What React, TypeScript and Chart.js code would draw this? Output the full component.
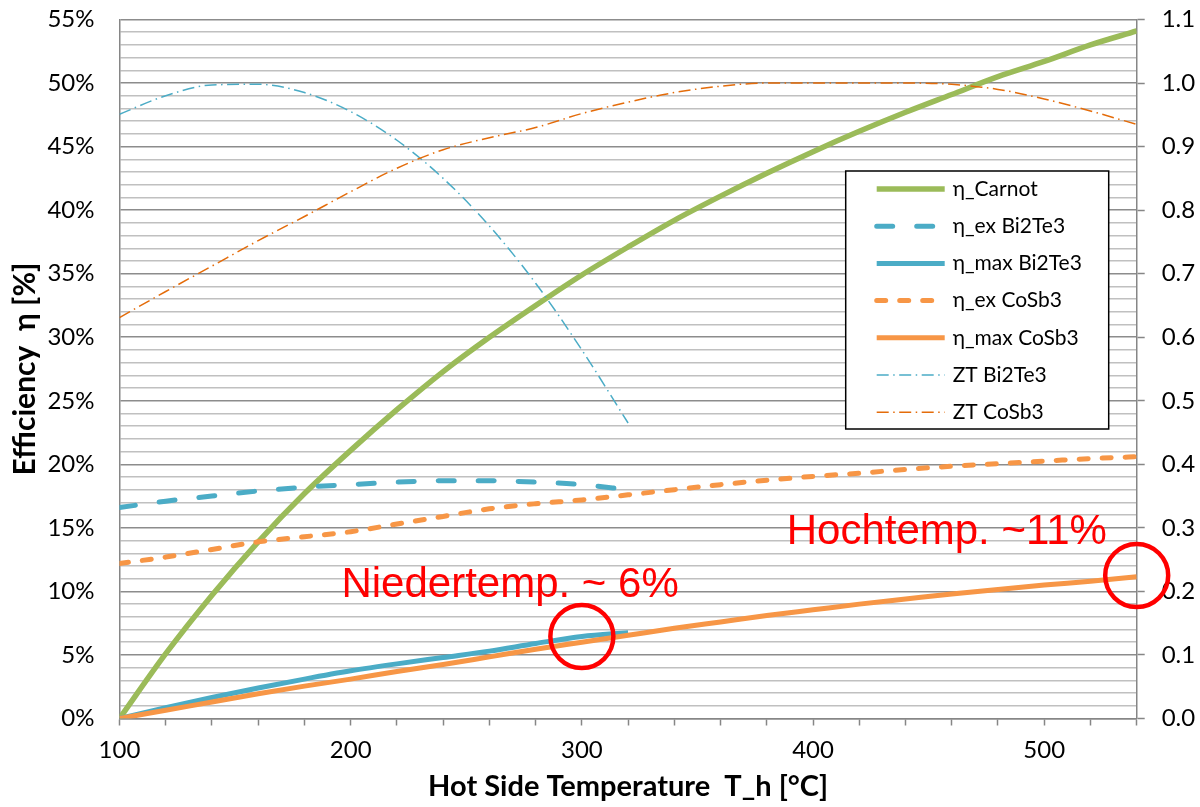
import { useEffect, useRef } from 'react';
import { Chart, registerables } from 'chart.js';

Chart.register(...registerables);

// Hot side temperatures [°C]
const temps = [100, 120, 140, 160, 180, 200, 220, 240, 260, 280, 300, 320, 340, 360, 380, 400, 420, 440, 460, 480, 500, 520, 540];
const tempsBi2Te3 = [100, 120, 140, 160, 180, 200, 220, 240, 260, 280, 300, 320];

// Efficiencies [%]
const etaCarnot = [0, 5.1, 9.7, 13.9, 17.7, 21.1, 24.3, 27.3, 30.0, 32.5, 34.9, 37.1, 39.2, 41.1, 42.9, 44.6, 46.2, 47.7, 49.1, 50.5, 51.7, 53.0, 54.1];
const etaExBi2Te3 = [16.6, 17.1, 17.5, 17.9, 18.2, 18.4, 18.6, 18.7, 18.7, 18.6, 18.4, 18.0];
const etaMaxBi2Te3 = [0, 0.85, 1.65, 2.4, 3.1, 3.75, 4.3, 4.8, 5.3, 5.9, 6.45, 6.75];
const etaExCoSb3 = [12.2, 12.7, 13.3, 13.9, 14.3, 14.7, 15.3, 15.9, 16.5, 16.9, 17.2, 17.6, 18.0, 18.4, 18.75, 19.05, 19.3, 19.6, 19.85, 20.05, 20.25, 20.45, 20.6];
const etaMaxCoSb3 = [0, 0.65, 1.3, 1.95, 2.55, 3.1, 3.7, 4.25, 4.85, 5.45, 6.0, 6.55, 7.1, 7.6, 8.1, 8.55, 9.0, 9.4, 9.8, 10.15, 10.5, 10.8, 11.15];

// Figure of merit ZT (right axis)
const ztBi2Te3 = [0.951, 0.98, 0.997, 0.998, 0.985, 0.955, 0.91, 0.85, 0.775, 0.685, 0.58, 0.465];
const ztCoSb3 = [0.631, 0.672, 0.712, 0.752, 0.79, 0.829, 0.866, 0.895, 0.914, 0.93, 0.952, 0.97, 0.985, 0.995, 1.0, 1.0, 1.0, 1.0, 0.998, 0.99, 0.975, 0.956, 0.935];

// Axis ticks
const xTicks = [100, 120, 140, 160, 180, 200, 220, 240, 260, 280, 300, 320, 340, 360, 380, 400, 420, 440, 460, 480, 500, 520, 540];
const xLabelTicks = [100, 200, 300, 400, 500];
const yMinorTicks = Array.from({ length: 56 }, (_, i) => i);
const yLabelTicks = [0, 5, 10, 15, 20, 25, 30, 35, 40, 45, 50, 55];
const ztTicks = [0, 0.1, 0.2, 0.3, 0.4, 0.5, 0.6, 0.7, 0.8, 0.9, 1.0, 1.1];

// Annotations
const notes = [
  { text: 'Niedertemp. ~ 6%', x: 196, y: 9.55, cx: 300, cy: 6.45 },
  { text: 'Hochtemp. ~11%', x: 388.6, y: 13.75, cx: 540, cy: 11.25 },
];

const GREEN = '#9BBB59';
const BLUE = '#4BACC6';
const ORANGE = '#F79646';
const DARK_ORANGE = '#E46C0A';
const AXIS_GRAY = '#868686';

const pts = (xs: number[], ys: number[]) => ys.map((y, i) => ({ x: xs[i], y }));

const legendPlugin = {
  id: 'boxLegend',
  afterDraw(chart: any) {
    const { ctx, chartArea } = chart;
    const left = chartArea.right - 291;
    const top = chartArea.top + 151.5;
    const w = 263;
    const h = 258;
    ctx.save();
    ctx.fillStyle = '#fff';
    ctx.fillRect(left, top, w, h);
    ctx.strokeStyle = '#000';
    ctx.lineWidth = 1.5;
    ctx.strokeRect(left, top, w, h);
    chart.data.datasets.forEach((ds: any, i: number) => {
      const y = top + 18 + i * 37.2;
      ctx.beginPath();
      ctx.setLineDash(ds.borderDash || []);
      ctx.lineCap = ds.borderCapStyle || 'butt';
      ctx.lineWidth = ds.borderWidth;
      ctx.strokeStyle = ds.borderColor;
      ctx.moveTo(left + 31, y);
      ctx.lineTo(left + 99, y);
      ctx.stroke();
      ctx.setLineDash([]);
      ctx.fillStyle = '#000';
      ctx.font = '21px Lato';
      ctx.textBaseline = 'middle';
      ctx.textAlign = 'left';
      ctx.fillText(ds.label, left + 107, y);
    });
    ctx.restore();
  },
};

const notePlugin = {
  id: 'notes',
  afterDraw(chart: any) {
    const { ctx } = chart;
    const xs = chart.scales.x;
    const ys = chart.scales.y;
    ctx.save();
    notes.forEach((n) => {
      ctx.fillStyle = '#FF0000';
      ctx.font = '42px "Liberation Sans", Arial, sans-serif';
      ctx.textBaseline = 'alphabetic';
      ctx.textAlign = 'left';
      ctx.fillText(n.text, xs.getPixelForValue(n.x), ys.getPixelForValue(n.y));
      ctx.beginPath();
      ctx.strokeStyle = '#FF0000';
      ctx.lineWidth = 4.5;
      ctx.arc(xs.getPixelForValue(n.cx), ys.getPixelForValue(n.cy), 31.5, 0, Math.PI * 2);
      ctx.stroke();
    });
    ctx.restore();
  },
};

// Vertical axes: fixed width and no extra vertical padding from tick-label spacing
const fixVertical = (width: number) => (s: any) => {
  s.width = width;
  s.paddingTop = 0;
  s.paddingBottom = 0;
};

export default function App() {
  const ref = useRef<HTMLCanvasElement>(null);

  useEffect(() => {
    Chart.defaults.font.family = 'Lato';
    Chart.defaults.color = '#000';
    const n = 7;
    const chart = new Chart(ref.current!, {
      type: 'line',
      data: {
        datasets: [
          { label: 'η_Carnot', data: pts(temps, etaCarnot), borderColor: GREEN, borderWidth: 5.5, yAxisID: 'y', order: n - 0 },
          { label: 'η_ex Bi2Te3', data: pts(tempsBi2Te3, etaExBi2Te3), borderColor: BLUE, borderWidth: 5, borderDash: [16, 24], borderCapStyle: 'round', yAxisID: 'y', order: n - 1 },
          { label: 'η_max Bi2Te3', data: pts(tempsBi2Te3, etaMaxBi2Te3), borderColor: BLUE, borderWidth: 5, yAxisID: 'y', order: n - 2 },
          { label: 'η_ex CoSb3', data: pts(temps, etaExCoSb3), borderColor: ORANGE, borderWidth: 5, borderDash: [9, 14], borderCapStyle: 'round', yAxisID: 'y', order: n - 3 },
          { label: 'η_max CoSb3', data: pts(temps, etaMaxCoSb3), borderColor: ORANGE, borderWidth: 5, yAxisID: 'y', order: n - 4 },
          { label: 'ZT Bi2Te3', data: pts(tempsBi2Te3, ztBi2Te3), borderColor: BLUE, borderWidth: 1.5, borderDash: [12, 4.5, 1.5, 4.5], yAxisID: 'y2', order: n - 5 },
          { label: 'ZT CoSb3', data: pts(temps, ztCoSb3), borderColor: DARK_ORANGE, borderWidth: 1.5, borderDash: [12, 4.5, 1.5, 4.5], yAxisID: 'y2', order: n - 6 },
        ] as any,
      },
      options: {
        responsive: false,
        animation: false,
        layout: { padding: { top: 19.5, left: 0, right: 0, bottom: 0 } },
        elements: {
          point: { radius: 0 },
          line: { cubicInterpolationMode: 'monotone', fill: false },
        },
        plugins: { legend: { display: false }, tooltip: { enabled: false } },
        scales: {
          x: {
            type: 'linear',
            min: 100,
            max: 540,
            afterBuildTicks: (s: any) => { s.ticks = xTicks.map((v) => ({ value: v })); },
            afterFit: (s: any) => { s.height = 88.5; },
            ticks: {
              autoSkip: false,
              maxRotation: 0,
              padding: 10,
              font: { size: 24 },
              callback: (v: any) => (xLabelTicks.includes(v) ? String(v) : ''),
            },
            grid: { drawOnChartArea: false, drawTicks: true, tickLength: 7, tickColor: AXIS_GRAY, tickWidth: 1.5 },
            border: { display: true, color: AXIS_GRAY, width: 1.5 },
            title: {
              display: true,
              text: 'Hot Side Temperature  T_h [°C]',
              font: { size: 29, weight: 'bold' },
              padding: { top: 0, bottom: 3 },
            },
          },
          y: {
            type: 'linear',
            position: 'left',
            min: 0,
            max: 55,
            afterBuildTicks: (s: any) => { s.ticks = yMinorTicks.map((v) => ({ value: v })); },
            afterFit: fixVertical(119.5),
            ticks: {
              autoSkip: false,
              padding: 25,
              font: { size: 24 },
              callback: (v: any) => (yLabelTicks.includes(v) ? v + '%' : ''),
            },
            grid: {
              drawTicks: false,
              lineWidth: 1.5,
              color: (c: any) => (c.tick && c.tick.value % 5 === 0 ? '#8c8c8c' : '#c0c0c0'),
            },
            border: { display: true, color: AXIS_GRAY, width: 1.5 },
            title: {
              display: true,
              text: 'Efficiency  η [%]',
              font: { size: 30, weight: 'bold' },
              padding: { top: 7, bottom: 0 },
            },
          },
          y2: {
            type: 'linear',
            position: 'right',
            min: 0,
            max: 1.1,
            afterBuildTicks: (s: any) => { s.ticks = ztTicks.map((v) => ({ value: v })); },
            afterFit: fixVertical(63.3),
            ticks: {
              autoSkip: false,
              padding: 17,
              font: { size: 24 },
              callback: (v: any) => Number(v).toFixed(1),
            },
            grid: { drawOnChartArea: false, drawTicks: true, tickLength: 8, tickColor: AXIS_GRAY, tickWidth: 1.5 },
            border: { display: true, color: AXIS_GRAY, width: 1.5 },
          },
        },
      } as any,
      plugins: [legendPlugin, notePlugin],
    });
    return () => chart.destroy();
  }, []);

  return (
    <div style={{ position: 'absolute', left: 0, top: 0, width: 1200, height: 807, background: '#fff' }}>
      <canvas ref={ref} width={1200} height={807} />
    </div>
  );
}
